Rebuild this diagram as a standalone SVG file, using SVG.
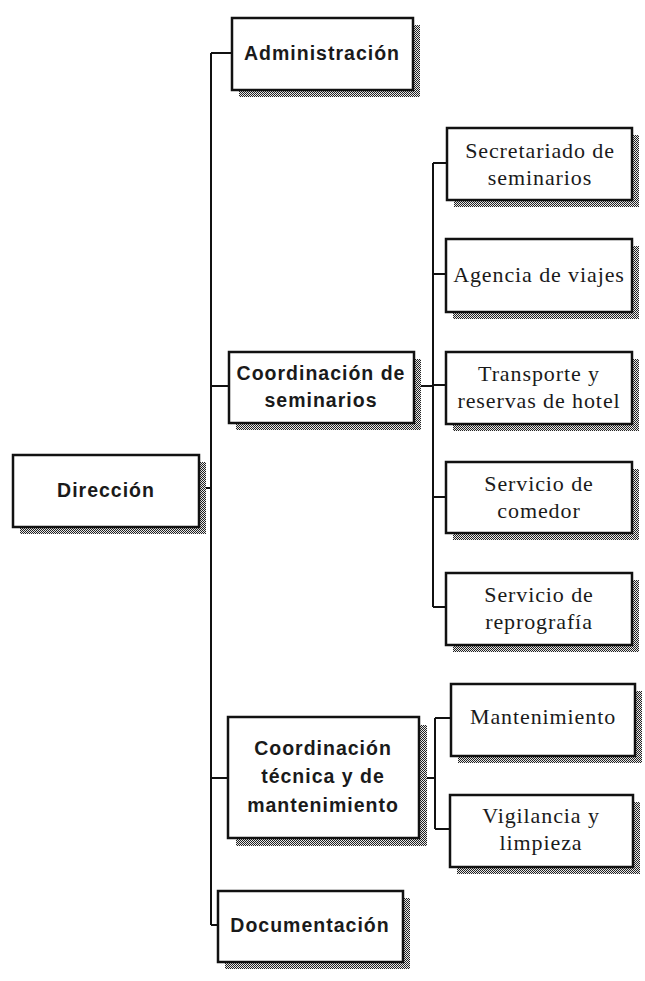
<svg xmlns="http://www.w3.org/2000/svg" width="645" height="981" viewBox="0 0 645 981">
<defs>
<pattern id="dither" width="2" height="2" patternUnits="userSpaceOnUse">
<rect width="2" height="2" fill="#e8e8e8"/>
<rect x="0" y="0" width="1" height="1" fill="#222"/>
<rect x="1" y="1" width="1" height="1" fill="#222"/>
</pattern>
</defs>
<style>
.shadow{fill:url(#dither);}
.box{fill:#ffffff;stroke:#111;stroke-width:2.5;}
.line{stroke:#111;stroke-width:2;fill:none;}
.t1{font-family:"Liberation Sans","DejaVu Sans",sans-serif;font-weight:bold;font-size:19.5px;fill:#1a1a1a;text-anchor:middle;letter-spacing:1px;}
.t2{font-family:"Liberation Serif","DejaVu Serif",serif;font-size:22px;fill:#1a1a1a;text-anchor:middle;letter-spacing:0.9px;}
</style>
<rect width="645" height="981" fill="#ffffff"/>
<g id="connectors">
<path class="line" d="M211 53 V925"/>
<path class="line" d="M199 488 H211"/>
<path class="line" d="M211 53 H232"/>
<path class="line" d="M211 386 H229"/>
<path class="line" d="M211 778 H228"/>
<path class="line" d="M211 925 H218"/>
<path class="line" d="M414 386 H433"/>
<path class="line" d="M433 163 V607"/>
<path class="line" d="M433 163 H447"/>
<path class="line" d="M433 274 H446"/>
<path class="line" d="M433 385 H446"/>
<path class="line" d="M433 497 H446"/>
<path class="line" d="M433 607 H446"/>
<path class="line" d="M419 778 H435"/>
<path class="line" d="M435 718 V829"/>
<path class="line" d="M435 718 H451"/>
<path class="line" d="M435 829 H450"/>
</g>
<g id="direccion">
<rect class="shadow" x="20" y="462" width="186" height="72"/>
<rect class="box" x="13" y="455" width="186" height="72"/>
<text class="t1" x="106" y="497">Dirección</text>
</g>
<g id="administracion">
<rect class="shadow" x="239" y="25" width="181" height="72"/>
<rect class="box" x="232" y="18" width="181" height="72"/>
<text class="t1" x="322" y="60">Administración</text>
</g>
<g id="coord-seminarios">
<rect class="shadow" x="236" y="359" width="185" height="71"/>
<rect class="box" x="229" y="352" width="185" height="71"/>
<text class="t1" x="321" y="380">Coordinación de</text>
<text class="t1" x="321" y="407">seminarios</text>
</g>
<g id="coord-tecnica">
<rect class="shadow" x="236" y="725" width="191" height="121"/>
<rect class="box" x="228" y="717" width="191" height="121"/>
<text class="t1" x="323" y="755">Coordinación</text>
<text class="t1" x="323" y="783">técnica y de</text>
<text class="t1" x="323" y="812">mantenimiento</text>
</g>
<g id="documentacion">
<rect class="shadow" x="225" y="898" width="185" height="71"/>
<rect class="box" x="218" y="891" width="185" height="71"/>
<text class="t1" x="310" y="932">Documentación</text>
</g>
<g id="secretariado">
<rect class="shadow" x="454" y="135" width="185" height="72"/>
<rect class="box" x="447" y="128" width="185" height="72"/>
<text class="t2" x="540" y="158">Secretariado de</text>
<text class="t2" x="540" y="185">seminarios</text>
</g>
<g id="agencia">
<rect class="shadow" x="453" y="246" width="186" height="73"/>
<rect class="box" x="446" y="239" width="186" height="73"/>
<text class="t2" x="539" y="282">Agencia de viajes</text>
</g>
<g id="transporte">
<rect class="shadow" x="453" y="359" width="186" height="72"/>
<rect class="box" x="446" y="352" width="186" height="72"/>
<text class="t2" x="539" y="381">Transporte y</text>
<text class="t2" x="539" y="408">reservas de hotel</text>
</g>
<g id="comedor">
<rect class="shadow" x="453" y="469" width="186" height="71"/>
<rect class="box" x="446" y="462" width="186" height="71"/>
<text class="t2" x="539" y="491">Servicio de</text>
<text class="t2" x="539" y="518">comedor</text>
</g>
<g id="reprografia">
<rect class="shadow" x="453" y="580" width="186" height="72"/>
<rect class="box" x="446" y="573" width="186" height="72"/>
<text class="t2" x="539" y="602">Servicio de</text>
<text class="t2" x="539" y="629">reprografía</text>
</g>
<g id="mantenimiento">
<rect class="shadow" x="458" y="691" width="184" height="72"/>
<rect class="box" x="451" y="684" width="184" height="72"/>
<text class="t2" x="543" y="724">Mantenimiento</text>
</g>
<g id="vigilancia">
<rect class="shadow" x="457" y="802" width="183" height="72"/>
<rect class="box" x="450" y="795" width="183" height="72"/>
<text class="t2" x="541" y="823">Vigilancia y</text>
<text class="t2" x="541" y="850">limpieza</text>
</g>
</svg>
